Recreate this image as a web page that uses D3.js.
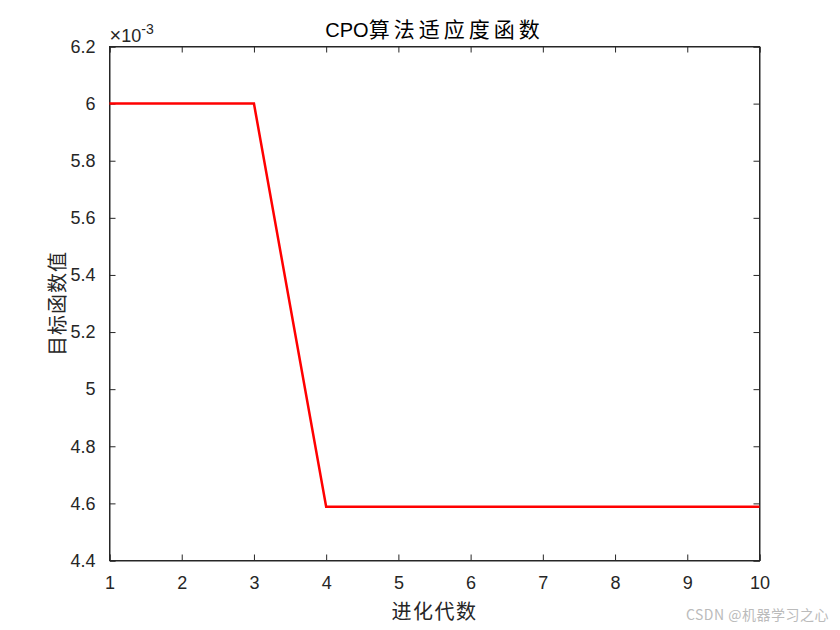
<!DOCTYPE html>
<html><head><meta charset="utf-8">
<script src="https://cdn.jsdelivr.net/npm/d3@7"></script>
<style>body{margin:0;background:#fff}</style>
</head><body><svg id="c" width="840" height="630"></svg>
<script>
const generations = [1,2,3,4,5,6,7,8,9,10];
const fitness = [6.0e-3,6.0e-3,6.0e-3,4.588e-3,4.588e-3,4.588e-3,4.588e-3,4.588e-3,4.588e-3,4.588e-3];
const xTicks = [1,2,3,4,5,6,7,8,9,10];
const yTicks = [4.4,4.6,4.8,5.0,5.2,5.4,5.6,5.8,6.0,6.2];
const titleLatin = "CPO";
const titleCJK = "算法适应度函数";
const xLabel = "进化代数";
const yLabel = "目标函数值";

const svg = d3.select("#c");
const L=109.5, R=759.5, T=46.5, B=560.5;
const x = d3.scaleLinear().domain([1,10]).range([L,R]);
const y = d3.scaleLinear().domain([4.4,6.2]).range([B,T]);
const font = "'Liberation Sans', Arial, sans-serif";
const cjk = "'Noto Sans CJK SC', sans-serif";

svg.append("rect").attr("x",L).attr("y",T).attr("width",R-L).attr("height",B-T)
  .attr("fill","#fff").attr("stroke","#262626").attr("stroke-width",1);

const tl = 6;
const gx = svg.append("g").attr("transform",`translate(0,${B})`)
  .call(d3.axisBottom(x).tickValues(xTicks).tickSize(-tl).tickPadding(16).tickFormat(d3.format("d")));
const gxt = svg.append("g").attr("transform",`translate(0,${T})`)
  .call(d3.axisTop(x).tickValues(xTicks).tickSize(-tl).tickFormat(""));
const gy = svg.append("g").attr("transform",`translate(${L},0)`)
  .call(d3.axisLeft(y).tickValues(yTicks).tickSize(-tl).tickPadding(14).tickFormat(d=>d3.format("~g")(+d.toFixed(1))));
const gyr = svg.append("g").attr("transform",`translate(${R},0)`)
  .call(d3.axisRight(y).tickValues(yTicks).tickSize(-tl).tickFormat(""));
[gx,gxt,gy,gyr].forEach(g=>{
  g.select(".domain").attr("stroke","#262626");
  g.selectAll(".tick line").attr("stroke","#262626");
  g.selectAll("text").attr("fill","#262626").style("font-family",font).style("font-size","18px");
});

svg.append("path").datum(generations.map((g,i)=>[g,fitness[i]*1000]))
  .attr("fill","none").attr("stroke","#ff0000").attr("stroke-width",2.5)
  .attr("d", d3.line().x(d=>x(d[0])).y(d=>y(d[1])));

// exponent label
const ex = svg.append("text").attr("x",L).attr("y",42).attr("fill","#262626")
  .style("font-family",font).style("font-size","18px");
ex.append("tspan").style("font-size","20px").text("×");
ex.append("tspan").text("10");
ex.append("tspan").attr("dy",-8).style("font-size","14px").text("-3");

const tt = svg.append("text").attr("x",(L+R)/2).attr("y",37).attr("text-anchor","middle")
  .attr("fill","#000");
tt.append("tspan").style("font-family",font).style("font-size","20px").text(titleLatin);
tt.append("tspan").style("font-family",cjk).style("font-size","21px").attr("letter-spacing","4px").text(titleCJK);

svg.append("text").attr("x",(L+R)/2).attr("y",619).attr("text-anchor","middle")
  .attr("fill","#262626").style("font-family",cjk).style("font-size","20px").attr("letter-spacing","1.5px").text(xLabel);
svg.append("text").attr("transform",`translate(65,${(T+B)/2}) rotate(-90)`).attr("text-anchor","middle")
  .attr("fill","#262626").style("font-family",cjk).style("font-size","20px").attr("letter-spacing","1px").text(yLabel);

svg.append("text").attr("x",829).attr("y",620).attr("text-anchor","end")
  .attr("fill","#bbbbbb").style("font-family",cjk).style("font-size","14px").attr("letter-spacing","0.5px").text("CSDN @机器学习之心");
</script></body></html>
